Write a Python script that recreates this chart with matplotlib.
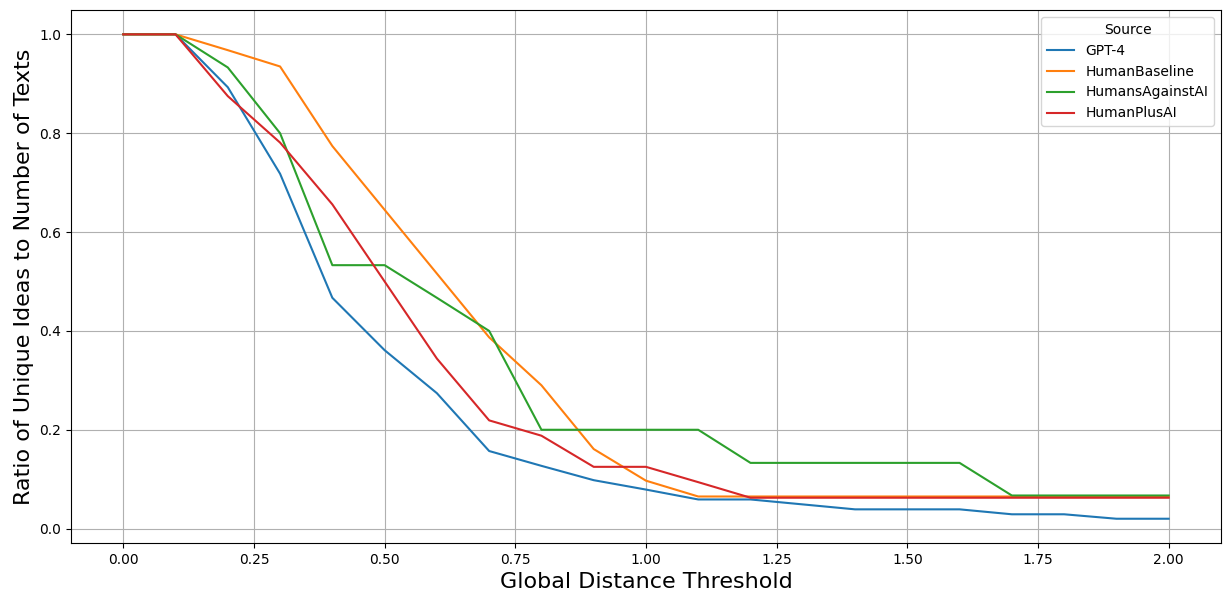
import matplotlib
matplotlib.use("Agg")
import matplotlib.pyplot as plt
import numpy as np

# thresholds 0.0 .. 2.0 step 0.1
thresholds = [0.0, 0.1, 0.2, 0.3, 0.4, 0.5, 0.6, 0.7, 0.8, 0.9, 1.0,
              1.1, 1.2, 1.3, 1.4, 1.5, 1.6, 1.7, 1.8, 1.9, 2.0]

gpt4 = [1.0, 1.0, 0.893, 0.718, 0.467, 0.361, 0.274, 0.157, 0.127, 0.098, 0.079,
        0.059, 0.059, 0.049, 0.039, 0.039, 0.039, 0.029, 0.029, 0.020, 0.020]
human_baseline = [1.0, 1.0, 0.968, 0.935, 0.774, 0.645, 0.516, 0.387, 0.290, 0.161, 0.097,
                  0.065, 0.065, 0.065, 0.065, 0.065, 0.065, 0.065, 0.065, 0.065, 0.065]
humans_against_ai = [1.0, 1.0, 0.933, 0.800, 0.533, 0.533, 0.467, 0.400, 0.200, 0.200, 0.200,
                     0.200, 0.133, 0.133, 0.133, 0.133, 0.133, 0.067, 0.067, 0.067, 0.067]
human_plus_ai = [1.0, 1.0, 0.875, 0.781, 0.656, 0.500, 0.344, 0.219, 0.188, 0.125, 0.125,
                 0.094, 0.0625, 0.0625, 0.0625, 0.0625, 0.0625, 0.0625, 0.0625, 0.0625, 0.0625]

series = {
    "GPT-4": gpt4,
    "HumanBaseline": human_baseline,
    "HumansAgainstAI": humans_against_ai,
    "HumanPlusAI": human_plus_ai,
}

fig, ax = plt.subplots(figsize=(12.24, 5.96), dpi=100)
fig.subplots_adjust(left=0.058, right=0.9975, top=0.983, bottom=0.089)

for name, vals in series.items():
    ax.plot(thresholds, vals, label=name, linewidth=1.5)

ax.set_xlabel("Global Distance Threshold", fontsize=16)
ax.set_ylabel("Ratio of Unique Ideas to Number of Texts", fontsize=16)
ax.set_xticks(np.arange(0, 2.01, 0.25))
ax.grid(True)
ax.legend(title="Source", loc="upper right")

fig.savefig("out.png", dpi=100)
